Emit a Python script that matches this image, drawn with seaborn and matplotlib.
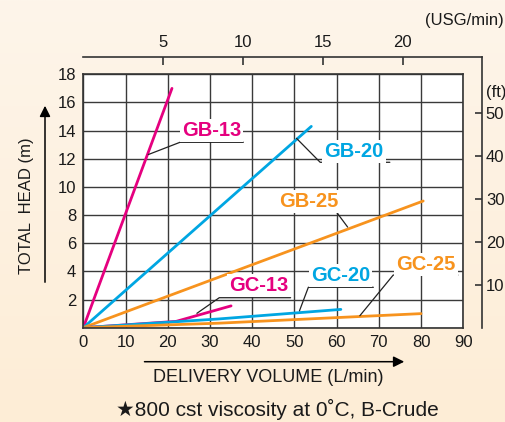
import numpy as np
import pandas as pd
import matplotlib
matplotlib.use('Agg')
import matplotlib.pyplot as plt
import seaborn as sns

# delivery volume (L/min) vs total head (m)
gb13_flow = [0, 21]
gb13_head = [0, 17.0]
gb20_flow = [0, 54]
gb20_head = [0, 14.3]
gb25_flow = [0, 80.5]
gb25_head = [0, 9.0]
gc13_flow = [0, 22, 35]
gc13_head = [0, 0.45, 1.55]
gc20_flow = [0, 32, 61]
gc20_head = [0, 0.62, 1.3]
gc25_flow = [0, 32, 80]
gc25_head = [0, 0.32, 1.0]

x_ticks = list(range(0, 91, 10))
y_ticks = list(range(0, 19, 2))
usg_ticks = [5, 10, 15, 20]
ft_ticks = [10, 20, 30, 40, 50]

MAGENTA = '#E5007F'
CYAN = '#00A6E2'
ORANGE = '#F7931E'

series = [
    ('GB-13', gb13_flow, gb13_head, MAGENTA),
    ('GB-20', gb20_flow, gb20_head, CYAN),
    ('GB-25', gb25_flow, gb25_head, ORANGE),
    ('GC-13', gc13_flow, gc13_head, MAGENTA),
    ('GC-20', gc20_flow, gc20_head, CYAN),
    ('GC-25', gc25_flow, gc25_head, ORANGE),
]

# label text centre, underline (y, x0, x1), leader end point on the curve
labels = [
    ('GB-13', MAGENTA, (30.4, 14.0), (13.17, 37.9, 22.9), (15.4, 12.3)),
    ('GB-20', CYAN, (64.1, 12.5), (11.75, 72.6, 56.1), (50.5, 13.45)),
    ('GB-25', ORANGE, (53.5, 8.95), (8.2, 46.2, 60.0), (62.6, 7.15)),
    ('GC-13', MAGENTA, (41.6, 3.0), (2.13, 49.1, 32.2), (26.9, 1.02)),
    ('GC-20', CYAN, (60.9, 3.69), (2.87, 68.7, 53.3), (51.2, 1.2)),
    ('GC-25', ORANGE, (81.2, 4.51), (3.74, 88.7, 73.4), (65.5, 0.85)),
]

sns.set_style('white')
plt.rcParams['font.family'] = ['Liberation Sans', 'DejaVu Sans']

W, H = 506, 422
fig = plt.figure(figsize=(W / 100, H / 100), dpi=100)


def fx(px):
    return px / W


def fy(py):
    return 1 - py / H


# cream background
bg = fig.add_axes([0, 0, 1, 1])
top = np.array([253, 245, 234]) / 255
bot = np.array([254, 237, 214]) / 255
t = np.linspace(0, 1, 200)[:, None, None]
grad = top * (1 - t) + bot * t
bg.imshow(np.repeat(grad, 2, axis=1), aspect='auto', extent=[0, 1, 0, 1])
bg.axis('off')

L, R, T, B = 83.3, 463.3, 74.3, 327.7
ax = fig.add_axes([fx(L), fy(B), (R - L) / W, (B - T) / H])
ax.set_facecolor('white')

for name, xs, ys, col in series:
    df = pd.DataFrame({'flow': xs, 'head': ys})
    sns.lineplot(data=df, x='flow', y='head', color=col, lw=2.0,
                 sort=False, estimator=None, ax=ax)

for name, col, (tx, ty), (uy, ux_end, ux_start), (lx, ly) in labels:
    ax.plot([ux_end, ux_start, lx], [uy, uy, ly], color='#222222', lw=0.9, zorder=2.5)
    ax.text(tx, ty, name, color=col, fontsize=14.5, fontweight='bold',
            ha='center', va='center', zorder=4,
            bbox=dict(facecolor='white', edgecolor='none', pad=1.5))

ax.set_xlim(0, 90)
ax.set_ylim(0, 18)
ax.set_xticks(x_ticks)
ax.set_yticks(y_ticks)
ax.set_yticklabels([''] + [str(v) for v in y_ticks[1:]])
ax.grid(True, color='#3a3a3a', lw=1.0)
ax.set_axisbelow(True)
ax.tick_params(length=0, labelsize=12, pad=5, colors='#1a1a1a')
for s in ax.spines.values():
    s.set_visible(True)
    s.set_color('#333333')
    s.set_linewidth(1.2)
ax.set_xlabel('')
ax.set_ylabel('')

# secondary scales: USG/min on top, ft on the right
R2, T2 = 481.7, 56.7
ax2 = fig.add_axes([fx(L), fy(B), (R2 - L) / W, (B - T2) / H])
ax2.patch.set_visible(False)
ax2.set_xlim(0, 90 * (R2 - L) / (R - L) / 3.785)
ax2.set_ylim(0, 18 * (B - T2) / (B - T) / 0.3048)
ax2.set_xticks(usg_ticks)
ax2.set_yticks(ft_ticks)
ax2.xaxis.tick_top()
ax2.yaxis.tick_right()
for side in ['left', 'bottom']:
    ax2.spines[side].set_visible(False)
for side in ['top', 'right']:
    ax2.spines[side].set_color('#333333')
    ax2.spines[side].set_linewidth(1.2)
ax2.tick_params(axis='x', direction='in', length=5.8, width=1.2, pad=5,
                labelsize=12, colors='#333333', labelcolor='#1a1a1a')
ax2.tick_params(axis='y', direction='in', length=4.8, width=1.2, pad=3,
                labelsize=12, colors='#333333', labelcolor='#1a1a1a')

fig.text(fx(504), fy(20), '(USG/min)', ha='right', va='center', fontsize=12, color='#1a1a1a')
fig.text(fx(486), fy(93), '(ft)', ha='left', va='center', fontsize=12, color='#1a1a1a')

fig.text(fx(268), fy(377), 'DELIVERY VOLUME (L/min)', ha='center', va='center',
         fontsize=13, color='#1a1a1a')
fig.text(fx(27), fy(206), 'TOTAL  HEAD (m)', ha='center', va='center',
         rotation=90, fontsize=12, color='#1a1a1a')
fig.text(fx(277), fy(409), '\u2605800 cst viscosity at 0\u02daC, B-Crude', ha='center',
         va='center', fontsize=15, color='#1a1a1a')

arrow = dict(arrowstyle='-|>', lw=1.1, color='black', mutation_scale=16)
bg.annotate('', xy=(fx(407), fy(361.7)), xytext=(fx(141.7), fy(361.7)),
            xycoords='axes fraction', arrowprops=arrow)
bg.annotate('', xy=(fx(45), fy(103)), xytext=(fx(45), fy(285)),
            xycoords='axes fraction', arrowprops=arrow)

fig.savefig('out.png', dpi=100)
